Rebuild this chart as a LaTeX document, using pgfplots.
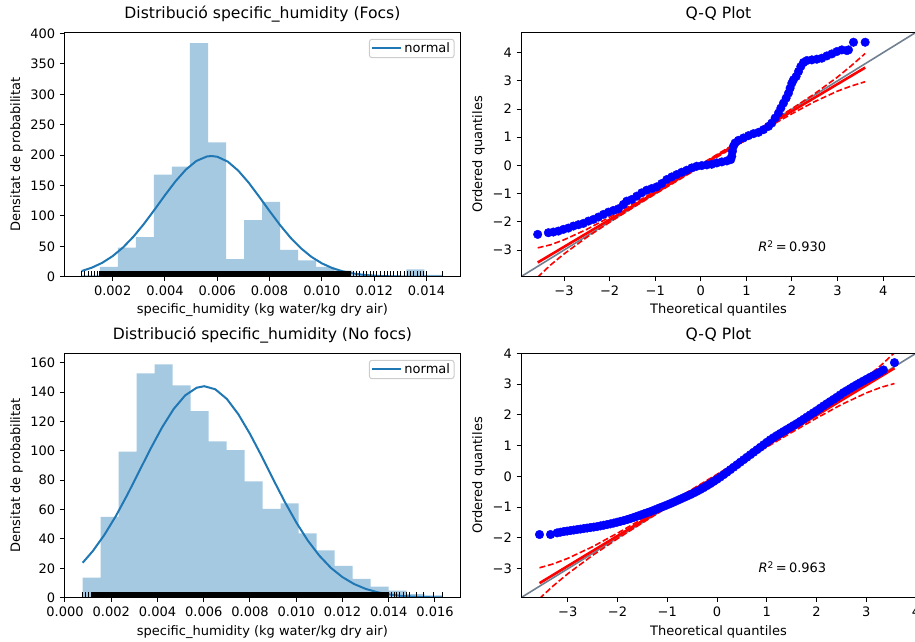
\documentclass[border=0pt]{standalone}
\usepackage{fontspec}
\setmainfont{DejaVu Sans}
\usepackage{pgfplots}
\pgfplotsset{compat=1.18}
\definecolor{c0}{HTML}{1F77B4}
\definecolor{slategrey}{HTML}{708090}
\pgfdeclareplotmark{rug}{\pgfpathmoveto{\pgfqpoint{0pt}{0pt}}\pgfpathlineto{\pgfqpoint{0pt}{5.5pt}}\pgfusepathqstroke}
\pgfplotsset{
  base/.style={
    scale only axis, axis on top, height=244.4pt,
    axis line style={line width=1pt},
    tick style={line width=1pt, black},
    tick align=outside, major tick length=4.5pt, tick pos=left,
    ticklabel style={font=\fontsize{13}{15}\selectfont, inner sep=0pt},
    xticklabel shift=4.5pt, yticklabel shift=4.5pt,
    /pgf/number format/assume math mode=true,
    scaled ticks=false,
    title style={at={(0.5,1)}, anchor=base, yshift=8pt, font=\fontsize{15.6}{18}\selectfont},
    label style={font=\fontsize{13}{15}\selectfont},
    xlabel style={at={(axis description cs:0.5,0)}, anchor=base, yshift=-37.3pt},
    legend style={at={(1,1)}, anchor=north east, xshift=-6pt, yshift=-6.5pt,
      draw=black!20, line width=1pt, rounded corners=2.5pt, fill=white,
      fill opacity=0.8, text opacity=1, draw opacity=1, font=\fontsize{13}{15}\selectfont,
      inner xsep=2pt, inner ysep=1.5pt},
    legend image code/.code={\draw[#1, line width=2pt, draw opacity=1] (0pt,0pt) -- (29pt,0pt);},
    legend cell align=left,
  },
  qq/.style={base, width=395pt,
    xtick={-3,-2,-1,0,1,2,3,4}, xticklabels={−3,−2,−1,0,1,2,3,4},
    ytick={-3,-2,-1,0,1,2,3,4}, yticklabels={−3,−2,−1,0,1,2,3,4},
    title={Q-Q Plot}, xlabel={Theoretical quantiles}, ylabel={Ordered quantiles},
    ylabel style={at={(axis description cs:-0.0987,0.5)}, anchor=base}},
  hist/.style={base, width=396.2pt,
    ylabel={Densitat de probabilitat},
    xlabel={specific\_humidity (kg water/kg dry air)},
    ylabel style={at={(axis description cs:-0.1118,0.5)}, anchor=base}},
  dots/.style={only marks, mark=*, mark size=4.3pt, mark options={draw=blue, fill=blue}},
  fitline/.style={red, line width=2.6pt},
  band/.style={red, line width=1.6pt, dash pattern=on 6pt off 2.6pt},
}
\begin{document}
\begin{tikzpicture}
\useasboundingbox (0pt,0pt) rectangle (915pt,642pt);

% ---------------- Top-left histogram (Focs)
\begin{axis}[hist, at={(64.3pt,365.3pt)}, anchor=south west,
  xmin=0.00015, xmax=0.0153, ymin=0, ymax=402,
  xtick={0.002,0.004,0.006,0.008,0.010,0.012,0.014},
  xticklabels={0.002,0.004,0.006,0.008,0.010,0.012,0.014},
  ytick={0,50,100,150,200,250,300,350,400},
  title={Distribució specific\_humidity (Focs)}]
\addplot[ybar interval, fill=c0, fill opacity=0.4, draw=none, forget plot] coordinates {
(0.000816,3) (0.001506,16) (0.002196,48) (0.002885,65) (0.003575,168)
(0.004265,181) (0.004955,384) (0.005645,221) (0.006334,29) (0.007024,93)
(0.007714,123) (0.008404,44) (0.009094,27) (0.009783,16) (0.010473,10)
(0.011163,3) (0.011853,1.5) (0.012543,1.5) (0.013232,12) (0.013922,3)
(0.014612,3)};
\addplot[c0, line width=2pt] coordinates {
(0.000816,9.40) (0.0012,14.80) (0.0016,22.84) (0.0020,33.87) (0.0024,48.27)
(0.0028,66.14) (0.0032,87.10) (0.0036,110.2) (0.0040,134.1) (0.0044,156.8)
(0.0048,176.2) (0.0052,190.4) (0.0056,197.7) (0.00578,198.5) (0.0060,197.3)
(0.0064,189.3) (0.0068,174.5) (0.0072,154.7) (0.0076,131.7) (0.0080,107.9)
(0.0084,84.9) (0.0088,64.2) (0.0092,46.7) (0.0096,32.6) (0.0100,21.9)
(0.0104,14.14) (0.0108,8.78) (0.0112,5.23) (0.0116,3.00) (0.0120,1.65)
(0.0124,0.88) (0.0128,0.45) (0.0132,0.22) (0.0136,0.10) (0.0140,0.05)
(0.014612,0.013)};
\addlegendentry{normal}
\addplot[only marks, mark=rug, mark options={line width=5.5pt, black}, forget plot]
 table[x=x, y expr=0, row sep=\\] {x\\ 0.0016\\ 0.0018\\ 0.0020\\ 0.0022\\ 0.0024\\ 0.0026\\ 0.0028\\ 0.0030\\
 0.0032\\ 0.0034\\ 0.0036\\ 0.0038\\ 0.0040\\ 0.0042\\ 0.0044\\ 0.0046\\ 0.0048\\ 0.0050\\ 0.0052\\ 0.0054\\
 0.0056\\ 0.0058\\ 0.0060\\ 0.0062\\ 0.0064\\ 0.0066\\ 0.0068\\ 0.0070\\ 0.0072\\ 0.0074\\ 0.0076\\ 0.0078\\
 0.0080\\ 0.0082\\ 0.0084\\ 0.0086\\ 0.0088\\ 0.0090\\ 0.0092\\ 0.0094\\ 0.0096\\ 0.0098\\ 0.0100\\ 0.0102\\
 0.0104\\ 0.0106\\ 0.0108\\ 0.0110\\};
\addplot[only marks, mark=rug, mark options={line width=1pt, black}, forget plot]
 table[x=x, y expr=0, row sep=\\] {x\\ 0.000816\\ 0.00094\\ 0.00107\\ 0.0012\\ 0.00132\\ 0.00141\\
 0.01120\\ 0.01132\\ 0.01145\\ 0.01160\\ 0.01172\\ 0.01185\\ 0.01198\\ 0.01210\\ 0.01225\\ 0.01238\\
 0.01250\\ 0.01262\\ 0.01275\\ 0.01290\\ 0.01302\\ 0.01315\\ 0.01328\\ 0.01340\\ 0.01352\\ 0.01365\\
 0.01378\\ 0.01390\\ 0.01400\\ 0.014612\\};
\end{axis}

% ---------------- Top-right QQ (Focs)
\begin{axis}[qq, at={(521pt,365.3pt)}, anchor=south west,
  xmin=-3.944, xmax=4.72, ymin=-3.944, ymax=4.72]
\addplot[slategrey, line width=1.6pt] coordinates {(-3.944,-3.944) (4.72,4.72)};
\addplot[dots] coordinates {
(-3.578,-2.444) (-3.344,-2.385) (-3.234,-2.361) (-3.124,-2.326) (-3.015,-2.267)
(-2.905,-2.220) (-2.795,-2.149) (-2.686,-2.102) (-2.576,-2.055) (-2.466,-1.973)
(-2.356,-1.914) (-2.247,-1.831) (-2.137,-1.737) (-2.027,-1.655) (-1.917,-1.596)
(-1.808,-1.537) (-1.698,-1.383) (-1.625,-1.266) (-1.515,-1.207) (-1.405,-1.089)
(-1.296,-0.971) (-1.186,-0.877) (-1.076,-0.818) (-0.967,-0.759) (-0.857,-0.641)
(-0.747,-0.500) (-0.637,-0.406) (-0.528,-0.323) (-0.418,-0.241) (-0.308,-0.170)
(-0.198,-0.087) (-0.089,-0.029) (0.021,-0.005) (0.131,0.019) (0.240,0.042)
(0.350,0.089) (0.460,0.125) (0.570,0.160) (0.657,0.207) (0.679,0.325)
(0.694,0.502) (0.716,0.678) (0.752,0.796) (0.826,0.891) (0.935,0.973)
(1.045,1.056) (1.155,1.126) (1.265,1.173) (1.374,1.268) (1.484,1.385)
(1.557,1.503) (1.630,1.680) (1.703,1.857) (1.755,2.033) (1.813,2.210)
(1.872,2.387) (1.923,2.564) (1.959,2.741) (1.996,2.917) (2.032,3.035)
(2.091,3.153) (2.142,3.330) (2.193,3.506) (2.252,3.648) (2.325,3.718)
(2.435,3.742) (2.545,3.766) (2.654,3.801) (2.764,3.883) (2.874,3.954)
(2.983,4.037) (3.093,4.096) (3.203,4.072) (3.239,4.096) (3.349,4.367)
(3.605,4.367)};
\addplot[fitline] coordinates {(-3.578,-3.442) (3.605,3.468)};
\addplot[band] coordinates {
(-3.578,-2.922) (-3.3,-2.815) (-3.0,-2.636) (-2.5,-2.265) (-2.0,-1.834) (-1.5,-1.378)
(-1.0,-0.912) (-0.5,-0.434) (0,0.044) (0.5,0.528) (1.0,1.012) (1.5,1.508)
(2.0,2.014) (2.5,2.545) (3.0,3.136) (3.3,3.535) (3.605,3.968)};
\addplot[band] coordinates {
(-3.578,-3.962) (-3.3,-3.535) (-3.0,-3.136) (-2.5,-2.545) (-2.0,-2.014) (-1.5,-1.508)
(-1.0,-1.012) (-0.5,-0.528) (0,-0.044) (0.5,0.434) (1.0,0.912) (1.5,1.378)
(2.0,1.834) (2.5,2.265) (3.0,2.636) (3.3,2.815) (3.605,2.968)};
\node[anchor=base west, font=\fontsize{13}{15}\selectfont, inner sep=0pt] at (axis cs:1.26,-3.05) {\textit{R}\textsuperscript{2}\,=\,0.930};
\end{axis}

% ---------------- Bottom-left histogram (No focs)
\begin{axis}[hist, at={(64.3pt,44.3pt)}, anchor=south west,
  xmin=-0.00003, xmax=0.017103, ymin=0, ymax=166.4,
  xtick={0,0.002,0.004,0.006,0.008,0.010,0.012,0.014,0.016},
  xticklabels={0.000,0.002,0.004,0.006,0.008,0.010,0.012,0.014,0.016},
  ytick={0,20,40,60,80,100,120,140,160},
  title={Distribució specific\_humidity (No focs)}]
\addplot[ybar interval, fill=c0, fill opacity=0.4, draw=none, forget plot] coordinates {
(0.000765,13.6) (0.001543,55) (0.002322,99.4) (0.003100,152.7) (0.003879,158.9)
(0.004657,144.6) (0.005435,127) (0.006214,106.4) (0.006992,100.5) (0.007771,79.2)
(0.008549,60.4) (0.009327,64.2) (0.010106,43.8) (0.010884,32.2) (0.011663,21.6)
(0.012441,12.9) (0.013219,7.5) (0.013998,4.8) (0.014776,2.5) (0.015555,1.6)
(0.016333,1.6)};
\addplot[c0, line width=2pt] coordinates {
(0.000765,23.8) (0.0012,31.7) (0.0017,42.7) (0.0022,55.6) (0.0027,70.2)
(0.0032,85.8) (0.0037,101.4) (0.0042,116.0) (0.0047,128.5) (0.0052,137.8)
(0.0057,143.0) (0.00602,144.0) (0.0065,141.9) (0.0070,135.3) (0.0075,124.8)
(0.0080,111.5) (0.0085,96.5) (0.0090,80.7) (0.0095,65.4) (0.0100,51.3)
(0.0105,38.9) (0.0110,28.6) (0.0115,20.3) (0.0120,14.0) (0.0125,9.33)
(0.0130,6.02) (0.0135,3.76) (0.0140,2.27) (0.0145,1.33) (0.0150,0.75)
(0.0155,0.41) (0.0160,0.22) (0.016333,0.14)};
\addlegendentry{normal}
\addplot[only marks, mark=rug, mark options={line width=5.5pt, black}, forget plot]
 table[x=x, y expr=0, row sep=\\] {x\\ 0.0013\\ 0.0015\\ 0.0017\\ 0.0019\\ 0.0021\\ 0.0023\\ 0.0025\\ 0.0027\\
 0.0029\\ 0.0031\\ 0.0033\\ 0.0035\\ 0.0037\\ 0.0039\\ 0.0041\\ 0.0043\\ 0.0045\\ 0.0047\\ 0.0049\\ 0.0051\\
 0.0053\\ 0.0055\\ 0.0057\\ 0.0059\\ 0.0061\\ 0.0063\\ 0.0065\\ 0.0067\\ 0.0069\\ 0.0071\\ 0.0073\\ 0.0075\\
 0.0077\\ 0.0079\\ 0.0081\\ 0.0083\\ 0.0085\\ 0.0087\\ 0.0089\\ 0.0091\\ 0.0093\\ 0.0095\\ 0.0097\\ 0.0099\\
 0.0101\\ 0.0103\\ 0.0105\\ 0.0107\\ 0.0109\\ 0.0111\\ 0.0113\\ 0.0115\\ 0.0117\\ 0.0119\\ 0.0121\\ 0.0123\\
 0.0125\\ 0.0127\\ 0.0129\\ 0.0131\\ 0.0133\\ 0.0135\\ 0.0137\\ 0.0139\\};
\addplot[only marks, mark=rug, mark options={line width=1pt, black}, forget plot]
 table[x=x, y expr=0, row sep=\\] {x\\ 0.000765\\ 0.00087\\ 0.00101\\ 0.00113\\
 0.014127\\ 0.01427\\ 0.014343\\ 0.014486\\ 0.014659\\ 0.014775\\ 0.014919\\ 0.015207\\
 0.015495\\ 0.015928\\ 0.016333\\};
\end{axis}

% ---------------- Bottom-right QQ (No focs)
\begin{axis}[qq, at={(521pt,44.3pt)}, anchor=south west,
  xmin=-3.94, xmax=4.0, ymin=-3.94, ymax=4.0]
\addplot[slategrey, line width=1.6pt] coordinates {(-3.94,-3.94) (4.0,4.0)};
\addplot[dots] coordinates {
(-3.568,-1.888) (-3.347,-1.888) (-3.214,-1.834) (-3.080,-1.791) (-2.946,-1.758)
(-2.812,-1.726) (-2.678,-1.693) (-2.544,-1.661) (-2.410,-1.629) (-2.276,-1.585)
(-2.143,-1.542) (-2.009,-1.488) (-1.875,-1.434) (-1.741,-1.369) (-1.607,-1.294)
(-1.473,-1.218) (-1.339,-1.143) (-1.206,-1.056) (-1.072,-0.970) (-0.938,-0.883)
(-0.804,-0.786) (-0.670,-0.689) (-0.536,-0.592) (-0.402,-0.484) (-0.268,-0.365)
(-0.135,-0.235) (-0.001,-0.095) (0.133,0.056) (0.267,0.218) (0.401,0.381)
(0.535,0.543) (0.669,0.705) (0.803,0.867) (0.936,1.029) (1.070,1.191)
(1.204,1.331) (1.338,1.461) (1.472,1.590) (1.606,1.720) (1.740,1.860)
(1.874,2.001) (2.007,2.141) (2.141,2.292) (2.275,2.433) (2.409,2.573)
(2.543,2.724) (2.677,2.854) (2.811,2.984) (2.945,3.102) (3.078,3.221)
(3.212,3.329) (3.346,3.459) (3.567,3.697)
(-3.147,-1.812) (-3.013,-1.775) (-2.879,-1.742) (-2.745,-1.710) (-2.611,-1.677)
(-2.477,-1.645) (-2.343,-1.607) (-2.210,-1.564) (-2.076,-1.515) (-1.942,-1.461)
(-1.808,-1.402) (-1.674,-1.332) (-1.540,-1.256) (-1.406,-1.181) (-1.273,-1.100)
(-1.139,-1.013) (-1.005,-0.927) (-0.871,-0.835) (-0.737,-0.738) (-0.603,-0.641)
(-0.469,-0.538) (-0.335,-0.425) (-0.202,-0.300) (-0.068,-0.165) (0.066,-0.020)
(0.200,0.137) (0.334,0.300) (0.468,0.462) (0.602,0.624) (0.736,0.786)
(0.870,0.948) (1.003,1.110) (1.137,1.261) (1.271,1.396) (1.405,1.526)
(1.539,1.655) (1.673,1.790) (1.807,1.931) (1.941,2.071) (2.074,2.217)
(2.208,2.363) (2.342,2.503) (2.476,2.649) (2.610,2.789) (2.744,2.919)
(2.878,3.043) (3.012,3.162) (3.145,3.275) (3.279,3.394)};
\addplot[fitline] coordinates {(-3.568,-3.468) (3.567,3.517)};
\addplot[band] coordinates {
(-3.568,-2.968) (-3.3,-2.846) (-3.0,-2.662) (-2.5,-2.283) (-2.0,-1.843) (-1.5,-1.379)
(-1.0,-0.904) (-0.5,-0.418) (0,0.069) (0.5,0.562) (1.0,1.054) (1.5,1.559)
(2.0,2.073) (2.5,2.613) (3.0,3.212) (3.3,3.616) (3.567,4.017)};
\addplot[band] coordinates {
(-3.568,-3.968) (-3.3,-3.566) (-3.0,-3.162) (-2.5,-2.563) (-2.0,-2.023) (-1.5,-1.509)
(-1.0,-1.004) (-0.5,-0.512) (0,-0.019) (0.5,0.468) (1.0,0.954) (1.5,1.429)
(2.0,1.893) (2.5,2.333) (3.0,2.712) (3.3,2.896) (3.567,3.017)};
\node[anchor=base west, font=\fontsize{13}{15}\selectfont, inner sep=0pt] at (axis cs:0.83,-3.13) {\textit{R}\textsuperscript{2}\,=\,0.963};
\end{axis}
\end{tikzpicture}
\end{document}
